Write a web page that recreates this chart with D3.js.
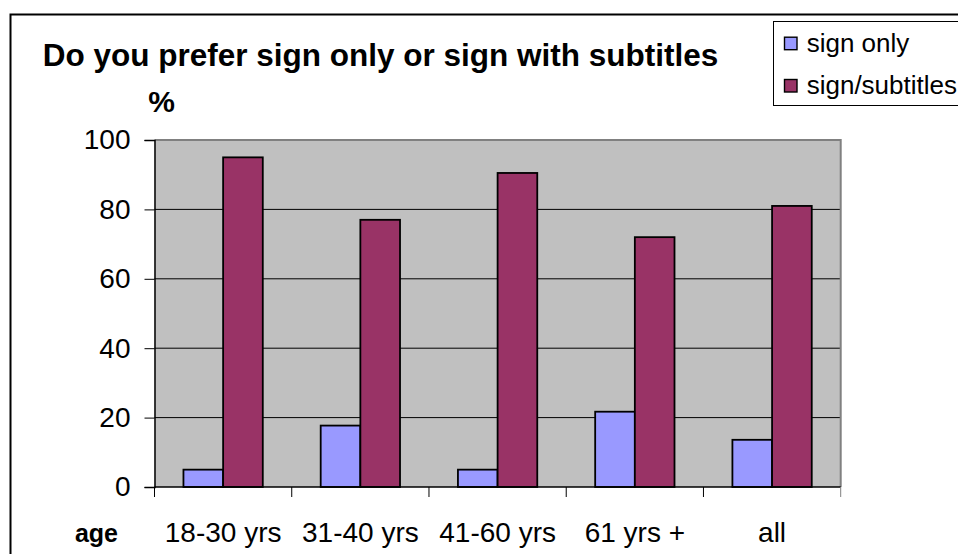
<!DOCTYPE html>
<html>
<head>
<meta charset="utf-8">
<script src="https://cdn.jsdelivr.net/npm/d3@7"></script>
<style>
  html, body { margin: 0; padding: 0; background: #fff; }
  svg { display: block; font-family: "Liberation Sans", Arial, sans-serif; }
</style>
</head>
<body>
<svg id="chart" width="958" height="554"></svg>
<script>
// Survey results: preference for sign only vs sign with subtitles, by age group (%)
const categories = ["18-30 yrs", "31-40 yrs", "41-60 yrs", "61 yrs +", "all"];
const seriesNames = ["sign only", "sign/subtitles"];
const signOnly = [5, 17.7, 5, 21.7, 13.6];
const signSubtitles = [95, 77, 90.5, 72, 81];
const yTicks = [0, 20, 40, 60, 80, 100];
const seriesColors = ["#9999FF", "#993366"];

const values = [signOnly, signSubtitles];
const rows = categories.map((c, i) => ({
  cat: c,
  vals: seriesNames.map((s, k) => ({ series: s, value: values[k][i], color: seriesColors[k] }))
}));

const svg = d3.select("#chart");

// outer chart frame (extends past the visible area on right and bottom)
svg.append("rect")
  .attr("x", 10.5).attr("y", 14.5)
  .attr("width", 1000).attr("height", 600)
  .attr("fill", "#fff").attr("stroke", "#000").attr("stroke-width", 2);

const plot = { left: 154.5, right: 840.7, top: 140, bottom: 487 };

const x = d3.scaleBand().domain(categories).range([plot.left, plot.right]).padding(0);
const xInner = d3.scaleBand().domain(seriesNames).range([0, x.bandwidth()])
  .paddingInner(0).paddingOuter(0.73);
const y = d3.scaleLinear().domain([0, 100]).range([plot.bottom, plot.top]);

// plot area background
svg.append("rect")
  .attr("x", plot.left).attr("y", plot.top)
  .attr("width", plot.right - plot.left).attr("height", plot.bottom - plot.top)
  .attr("fill", "#C0C0C0");

// horizontal gridlines
svg.append("g")
  .selectAll("line")
  .data(yTicks.filter(t => t > 0 && t < 100))
  .join("line")
  .attr("x1", plot.left).attr("x2", plot.right)
  .attr("y1", d => y(d)).attr("y2", d => y(d))
  .attr("stroke", "#000").attr("stroke-width", 1);

// grey border on top and right of plot area
svg.append("path")
  .attr("d", `M${plot.left},${plot.top}H${plot.right}V${plot.bottom}`)
  .attr("fill", "none").attr("stroke", "#808080").attr("stroke-width", 2);

// bars
const groups = svg.append("g").selectAll("g")
  .data(rows).join("g")
  .attr("transform", d => `translate(${x(d.cat)},0)`);

groups.selectAll("rect")
  .data(d => d.vals).join("rect")
  .attr("x", d => xInner(d.series))
  .attr("y", d => y(d.value))
  .attr("width", xInner.bandwidth())
  .attr("height", d => y(0) - y(d.value))
  .attr("fill", d => d.color)
  .attr("stroke", "#000").attr("stroke-width", 1.8);

// y axis
const yAxis = svg.append("g")
  .attr("transform", `translate(${plot.left},0)`)
  .call(d3.axisLeft(y).tickValues(yTicks).tickSize(10).tickPadding(14).tickFormat(d3.format("d")));
yAxis.select(".domain").attr("stroke", "#000").attr("stroke-width", 1.5);
yAxis.selectAll(".tick line").attr("stroke", "#000").attr("stroke-width", 1);
yAxis.selectAll(".tick text")
  .attr("font-size", 28).attr("fill", "#000")
  .attr("font-family", "Liberation Sans, Arial, sans-serif");

// x axis: ticks at category boundaries
const boundaries = categories.map(c => x(c)).concat([plot.right]);
svg.append("line")
  .attr("x1", plot.left).attr("x2", plot.right)
  .attr("y1", plot.bottom).attr("y2", plot.bottom)
  .attr("stroke", "#000").attr("stroke-width", 1.5);
svg.append("g").selectAll("line")
  .data(boundaries).join("line")
  .attr("x1", d => d).attr("x2", d => d)
  .attr("y1", plot.bottom).attr("y2", plot.bottom + 10)
  .attr("stroke", (d, i) => i === boundaries.length - 1 ? "#808080" : "#000")
  .attr("stroke-width", 1);

svg.append("g").selectAll("text")
  .data(categories).join("text")
  .attr("x", d => x(d) + x.bandwidth() / 2)
  .attr("y", 541.7)
  .attr("text-anchor", "middle")
  .attr("font-size", 28)
  .attr("fill", "#000")
  .text(d => d);

// axis titles
svg.append("text")
  .attr("x", 118).attr("y", 541.7)
  .attr("text-anchor", "end")
  .attr("font-size", 25).attr("font-weight", "bold")
  .text("age");

svg.append("text")
  .attr("x", 148.3).attr("y", 111.7)
  .attr("font-size", 30).attr("font-weight", "bold")
  .text("%");

// chart title
svg.append("text")
  .attr("x", 42.7).attr("y", 66)
  .attr("font-size", 31.5).attr("font-weight", "bold")
  .text("Do you prefer sign only or sign with subtitles");

// legend
const legend = svg.append("g");
legend.append("rect")
  .attr("x", 773.5).attr("y", 21.5)
  .attr("width", 300).attr("height", 84)
  .attr("fill", "#fff").attr("stroke", "#000").attr("stroke-width", 1);

const legendRows = [51.7, 94];
const li = legend.selectAll("g.item")
  .data(seriesNames).join("g").attr("class", "item");
li.append("rect")
  .attr("x", 784.5)
  .attr("y", (d, i) => legendRows[i] - 14.5)
  .attr("width", 12.5).attr("height", 12.5)
  .attr("fill", (d, i) => seriesColors[i])
  .attr("stroke", "#000").attr("stroke-width", 1.4);
li.append("text")
  .attr("x", 806.7)
  .attr("y", (d, i) => legendRows[i])
  .attr("font-size", 26)
  .text(d => d);
</script>
</body>
</html>
